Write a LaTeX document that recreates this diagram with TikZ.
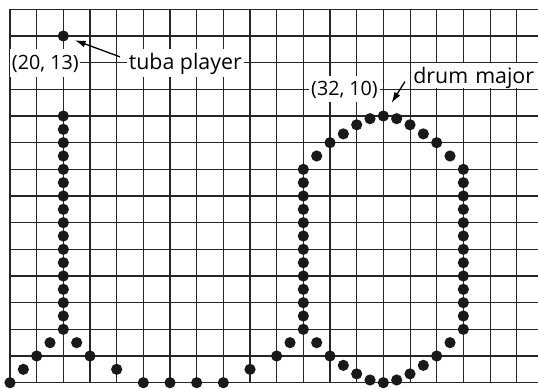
\documentclass[tikz,border=0pt]{standalone}
\usepackage{fontspec}
\setmainfont{Open Sans}
\usetikzlibrary{arrows.meta}
\begin{document}
\begin{tikzpicture}[x=0.5cm,y=0.5cm,
  gridline/.style={line width=0.55pt, black!85},
  dot/.style={circle, fill=black!90, inner sep=0pt, minimum size=0.21cm},
  dotfill/.style={fill=black!90},
  lbl/.style={fill=white, anchor=base west, inner xsep=1pt, inner ysep=0pt,
    text height=0.37cm, text depth=0.12cm, font=\fontsize{11.4}{13}\selectfont},
  coordlbl/.style={lbl, font=\fontsize{10.5}{12}\selectfont},
  pointer/.style={line width=0.7pt, -{Latex[length=2mm,width=1.3mm]}}]
\useasboundingbox (17.625,-0.2) rectangle (37.8,14.35);
% grid
\foreach \x in {18,...,37} \draw[gridline] (\x,0) -- (\x,14);
\foreach \y in {0,...,14} \draw[gridline] (18,\y) -- (37.8,\y);
% dots
\foreach \p in {(18,0),(18.5,0.5),(19,1),(19.5,1.5),(20.5,1.5),(21,1),(22,0.5),
  (23,0),(24,0),(25,0),(26,0),(27,0.5),(28,1),(28.5,1.5),
  (29.5,8.5),(30,9),(30.5,9.33),(31,9.67),(31.5,9.9),
  (32.5,9.9),(33,9.67),(33.5,9.33),(34,9),(34.5,8.5),
  (29.5,1.5),(30,1),(30.5,0.65),(31,0.33),(31.5,0.1),(32,0),
  (32.5,0.1),(33,0.33),(33.5,0.65),(34,1),(34.5,1.5)}
  \fill[dotfill] \p circle[radius=0.105cm];
\foreach \y in {2,2.5,...,10} \fill[dotfill] (20,\y) circle[radius=0.105cm];
\foreach \y in {2,2.5,...,8} {
  \fill[dotfill] (29,\y) circle[radius=0.105cm];
  \fill[dotfill] (35,\y) circle[radius=0.105cm];
}
\node[dot] (tuba) at (20,13) {};
\node[dot] (drum) at (32,10) {};
% labels
\node[coordlbl, text height=0.39cm, text depth=0.14cm] (tubacoord) at (17.99,11.75) {(20, 13)};
\node[lbl, text height=0.39cm, text depth=0.14cm] (tubalbl) at (22.37,11.75) {tuba player};
\node[coordlbl] (drumcoord) at (29.21,10.76) {(32, 10)};
\node[lbl, text depth=0.09cm, text width=2.5cm, align=left] (drumlbl) at (33.04,11.23) {drum major};
% pointers
\coordinate (tubatail) at (22.12,12.22);
\coordinate (drumtail) at (32.81,11.29);
\draw[pointer, shorten >=0.12cm] (tubatail) -- (tuba);
\draw[pointer, shorten >=0.18cm] (drumtail) -- (drum);
\end{tikzpicture}
\end{document}
